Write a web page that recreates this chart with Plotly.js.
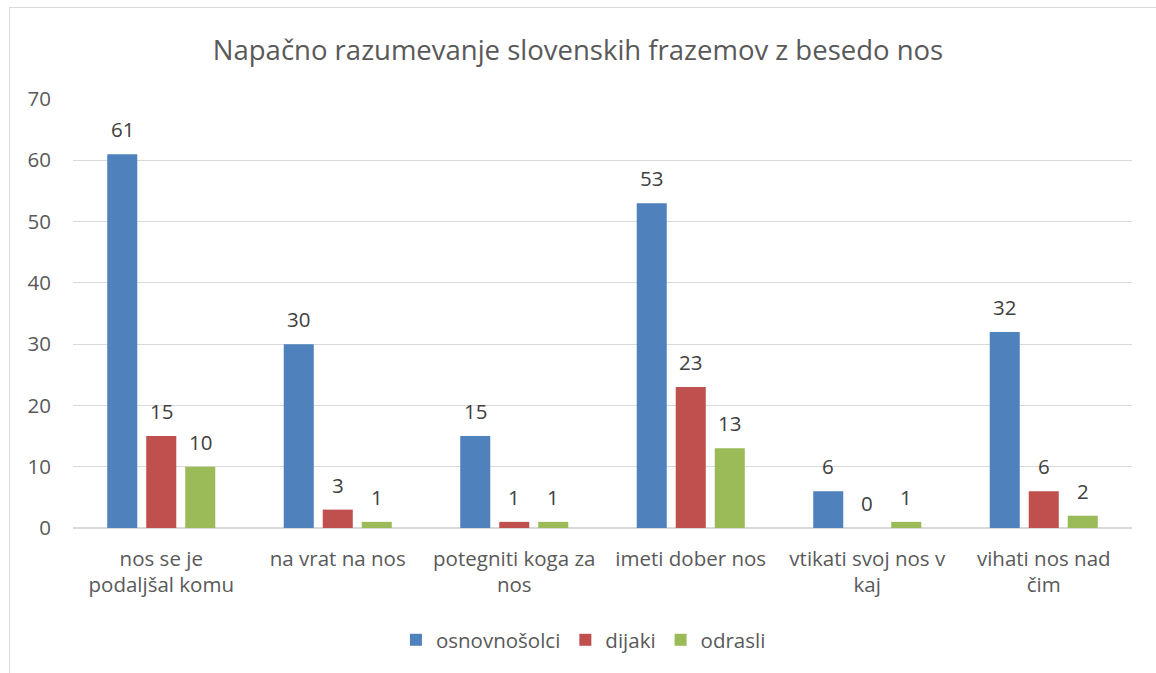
<!DOCTYPE html>
<html>
<head>
<meta charset="utf-8">
<script src="https://cdn.plot.ly/plotly-3.0.1.min.js"></script>
<style>
  html, body { margin: 0; padding: 0; background: #ffffff; overflow: hidden; }
  #frame { position: absolute; left: 9px; top: 7px; width: 1200px; height: 720px; border: 1px solid #d9d9d9; box-sizing: border-box; }
  #chart { position: absolute; left: 0; top: 0; width: 1156px; height: 673px; }
</style>
</head>
<body>
<div id="frame"></div>
<div id="chart"></div>
<script>
const categories = ["nos se je<br>podaljšal komu", "na vrat na nos", "potegniti koga za<br>nos", "imeti dober nos", "vtikati svoj nos v<br>kaj", "vihati nos nad<br>čim"];
const seriesNames = ["osnovnošolci", "dijaki", "odrasli"];
const osnovnosolci = [61, 30, 15, 53, 6, 32];
const dijaki = [15, 3, 1, 23, 0, 6];
const odrasli = [10, 1, 1, 13, 1, 2];
const yTicks = [0, 10, 20, 30, 40, 50, 60, 70];

const colors = ["#4F81BD", "#C0504D", "#9BBB59"];
const values = [osnovnosolci, dijaki, odrasli];
const FONT = "'Open Sans', sans-serif";

const traces = values.map((v, i) => ({
  type: "bar",
  name: seriesNames[i],
  x: categories,
  y: v,
  marker: { color: colors[i] },
  hoverinfo: "x+y+name"
}));

const shifts = [-39, 0, 39];
const annotations = [];
values.forEach((v, i) => {
  v.forEach((val, j) => {
    annotations.push({
      x: categories[j], y: val, xref: "x", yref: "y",
      text: String(val), showarrow: false,
      xshift: shifts[i], yshift: 25, yanchor: "middle",
      font: { family: FONT, size: 20.5, color: "#404040" }
    });
  });
});

const layout = {
  width: 1156, height: 673,
  paper_bgcolor: "rgba(0,0,0,0)",
  plot_bgcolor: "rgba(0,0,0,0)",
  margin: { l: 73, r: 24, t: 99, b: 145 },
  title: {
    text: "Napačno razumevanje slovenskih frazemov z besedo nos",
    font: { family: FONT, size: 27.5, color: "#595959" },
    x: 0.5, xanchor: "center", y: 0.925, yanchor: "middle"
  },
  barmode: "group",
  bargap: 0.337,
  bargroupgap: 0.23,
  xaxis: {
    tickfont: { family: FONT, size: 20.5, color: "#595959" },
    ticks: "", showgrid: false, showline: false,
    ticklabelstandoff: 16
  },
  yaxis: {
    range: [0, 70],
    tickvals: yTicks,
    ticktext: yTicks.map(String),
    tickfont: { family: FONT, size: 20.5, color: "#595959" },
    gridcolor: "#d9d9d9", gridwidth: 1,
    zeroline: true, zerolinecolor: "#d9d9d9", zerolinewidth: 1.5,
    showline: false, ticks: "",
    ticklabelstandoff: 21
  },
  legend: {
    orientation: "h", x: 0.482, xanchor: "center", y: -0.261, yanchor: "middle",
    font: { family: FONT, size: 20.5, color: "#595959" },
    itemwidth: 30, traceorder: "normal"
  },
  annotations: annotations,
  showlegend: true
};

Plotly.newPlot("chart", traces, layout, { displayModeBar: false, staticPlot: false });
</script>
</body>
</html>
